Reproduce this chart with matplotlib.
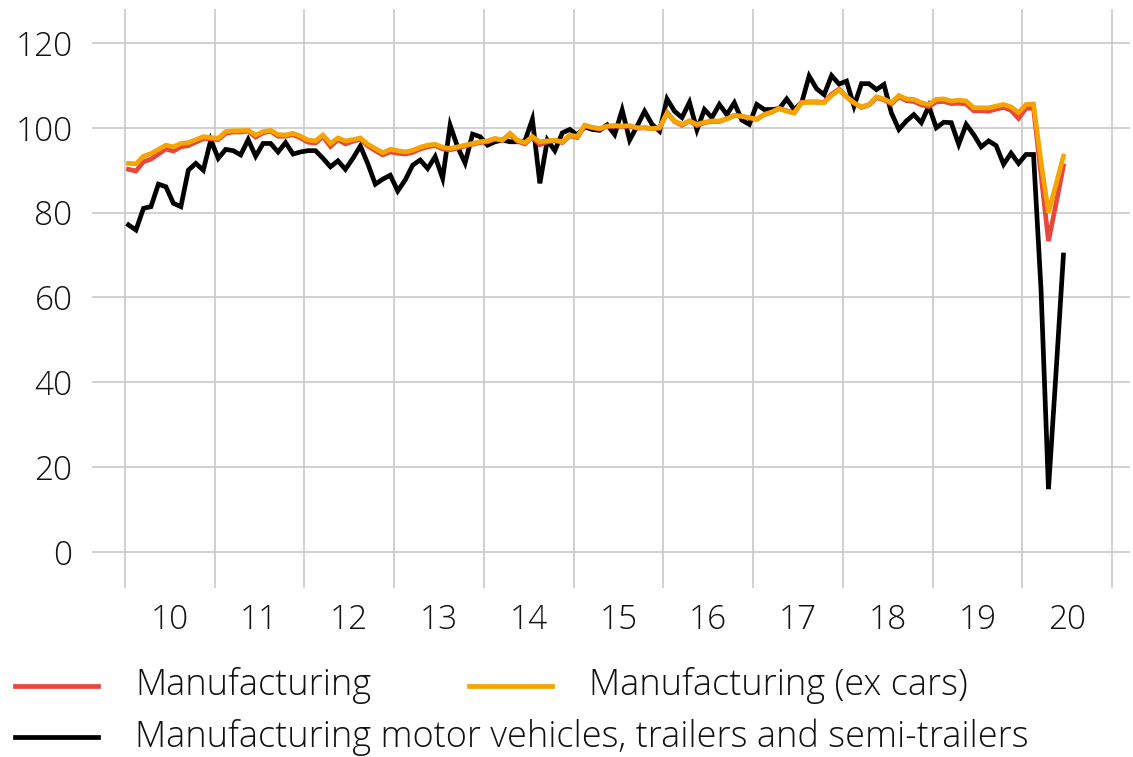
import numpy as np
import pandas as pd
import matplotlib
matplotlib.use("Agg")
import matplotlib.pyplot as plt
from matplotlib.lines import Line2D

plt.rcParams['font.family'] = ['Open Sans', 'DejaVu Sans']
plt.rcParams['font.weight'] = 'light'

# monthly index values, Jan 2010 - Jun 2020
months = pd.date_range('2010-01-01', periods=126, freq='MS')

manufacturing = [
    90.2, 89.8, 92.0, 92.6, 93.8, 95.0, 94.5, 95.5, 95.8, 96.6, 97.4, 97.4,
    97.2, 98.7, 99.0, 99.0, 99.2, 97.8, 98.8, 99.2, 98.0, 98.0, 98.4, 97.6,
    96.6, 96.4, 97.9, 95.6, 97.2, 96.2, 96.8, 97.3, 95.7, 94.6, 93.6, 94.3,
    94.0, 93.8, 94.2, 95.0, 95.5, 95.8, 95.0, 94.8, 95.2, 95.7, 96.1, 96.5,
    96.7, 97.3, 97.0, 98.5, 96.8, 96.2, 97.8, 96.0, 96.7, 97.0, 96.5, 98.1,
    97.7, 100.5, 100.0, 99.7, 100.3, 100.4, 100.3, 100.4, 99.9, 100.0, 99.8, 99.9,
    103.6, 101.5, 100.6, 101.6, 100.5, 101.2, 101.5, 101.5, 102.1, 102.9, 102.7, 102.3,
    102.0, 103.1, 103.7, 104.6, 104.0, 103.5, 106.0, 106.1, 106.1, 106.0, 107.9, 109.1,
    107.3, 105.8, 104.8, 105.4, 107.1, 106.6, 105.6, 107.3, 106.4, 106.2, 105.4, 105.0,
    106.1, 106.2, 105.7, 105.8, 105.6, 104.0, 104.0, 103.9, 104.4, 104.8, 104.1, 102.2,
    104.6, 104.6, 89.0, 73.3, 82.0, 91.0,
]

manufacturing_ex_cars = [
    91.6, 91.5, 93.3, 93.9, 94.9, 95.9, 95.5, 96.3, 96.5, 97.2, 97.9, 97.7,
    97.5, 99.1, 99.3, 99.3, 99.4, 98.3, 99.1, 99.4, 98.4, 98.3, 98.7, 98.0,
    97.1, 96.9, 98.3, 96.3, 97.6, 96.9, 97.2, 97.6, 96.1, 95.1, 94.1, 94.9,
    94.6, 94.3, 94.7, 95.4, 95.9, 96.1, 95.4, 95.1, 95.5, 95.9, 96.3, 96.7,
    96.9, 97.5, 97.1, 98.7, 97.1, 96.5, 97.9, 96.7, 96.9, 97.1, 96.7, 98.3,
    97.9, 100.6, 100.1, 99.8, 100.4, 100.5, 100.4, 100.5, 100.0, 100.0, 99.8, 100.0,
    103.4, 101.6, 100.8, 101.6, 100.8, 101.3, 101.6, 101.6, 102.1, 102.9, 102.7, 102.4,
    102.0, 103.1, 103.7, 104.5, 103.9, 103.5, 105.9, 106.0, 106.0, 105.9, 107.6, 108.9,
    107.3, 105.9, 104.9, 105.5, 107.3, 106.8, 105.9, 107.6, 106.8, 106.7, 105.9, 105.5,
    106.7, 106.8, 106.3, 106.5, 106.3, 104.7, 104.7, 104.7, 105.1, 105.5, 104.9, 103.6,
    105.5, 105.6, 92.0, 80.0, 86.6, 93.3,
]

motor_vehicles = [
    77.1, 75.9, 81.0, 81.4, 86.7, 86.1, 82.2, 81.4, 90.0, 91.6, 90.0, 97.1,
    92.8, 94.9, 94.6, 93.6, 97.2, 93.3, 96.3, 96.3, 94.3, 96.5, 93.8, 94.3,
    94.6, 94.6, 92.8, 90.8, 92.2, 90.2, 92.8, 95.7, 91.5, 86.7, 87.9, 88.8,
    85.1, 87.7, 91.2, 92.4, 90.4, 93.2, 88.1, 100.6, 95.5, 91.7, 98.5, 97.9,
    95.9, 96.7, 97.1, 96.7, 96.7, 96.9, 102.0, 86.9, 97.1, 94.6, 98.8, 99.6,
    98.3, 100.2, 99.6, 99.4, 100.7, 98.4, 104.2, 97.1, 100.4, 103.9, 100.8, 99.2,
    106.8, 103.9, 102.4, 106.0, 99.5, 104.3, 102.4, 105.5, 103.1, 105.9, 101.8, 100.8,
    105.5, 104.3, 104.3, 104.5, 106.8, 104.3, 105.9, 112.2, 109.2, 107.8, 112.3, 110.3,
    111.0, 105.1, 110.4, 110.4, 109.0, 110.2, 103.5, 99.6, 101.6, 103.1, 101.2, 105.1,
    100.0, 101.3, 101.2, 96.1, 100.8, 98.4, 95.5, 96.9, 95.8, 91.4, 94.0, 91.6,
    93.7, 93.7, 62.0, 14.8, 42.0, 70.0,
]

year_labels = ['10', '11', '12', '13', '14', '15', '16', '17', '18', '19', '20']
y_ticks = [0, 20, 40, 60, 80, 100, 120]

RED = '#e8473b'
ORANGE = '#f5a400'
GRID = '#c9c9c9'
TXT = '#111111'

# decimal year, point at middle of month
x = months.year + (months.month - 0.5) / 12

W, H = 1133, 757
fig = plt.figure(figsize=(W / 100, H / 100), dpi=100)
ax = fig.add_axes([92 / W, 169 / H, (1130 - 92) / W, (748 - 169) / H])

ax.plot(x, motor_vehicles, color='black', lw=3.4, solid_joinstyle='miter', zorder=3)
ax.plot(x, manufacturing, color=RED, lw=3.4, solid_joinstyle='miter', zorder=4)
ax.plot(x, manufacturing_ex_cars, color=ORANGE, lw=3.4, solid_joinstyle='miter', zorder=5)

ax.set_xlim(2009.635, 2021.2)
ax.set_ylim(-8.5, 128)

year_edges = np.arange(2010, 2022)
ax.set_xticks(year_edges)
ax.set_xticklabels([])
ax.set_xticks(np.arange(2010, 2021) + 0.5, minor=True)
ax.set_xticklabels(year_labels, minor=True)
ax.set_yticks(y_ticks)
ax.tick_params(axis='both', which='both', length=0, labelsize=24, colors=TXT)
ax.tick_params(axis='x', which='minor', pad=11)
ax.tick_params(axis='y', pad=14)
ax.grid(True, which='major', color=GRID, lw=1.2, zorder=0)
for s in ax.spines.values():
    s.set_visible(False)

# legend drawn by hand, two rows
def legend_item(x0, y, color, label):
    fig.add_artist(Line2D([x0 / W, (x0 + 83) / W], [1 - y / H] * 2, color=color, lw=3.4))
    fig.text((x0 + 120) / W, 1 - y / H, label, fontsize=26, va='center', ha='left',
             color=TXT)

legend_item(15, 686, RED, 'Manufacturing')
legend_item(469, 686, ORANGE, 'Manufacturing (ex cars)')
legend_item(15, 737, 'black', 'Manufacturing motor vehicles, trailers and semi-trailers')

fig.savefig('out.png', dpi=100)
